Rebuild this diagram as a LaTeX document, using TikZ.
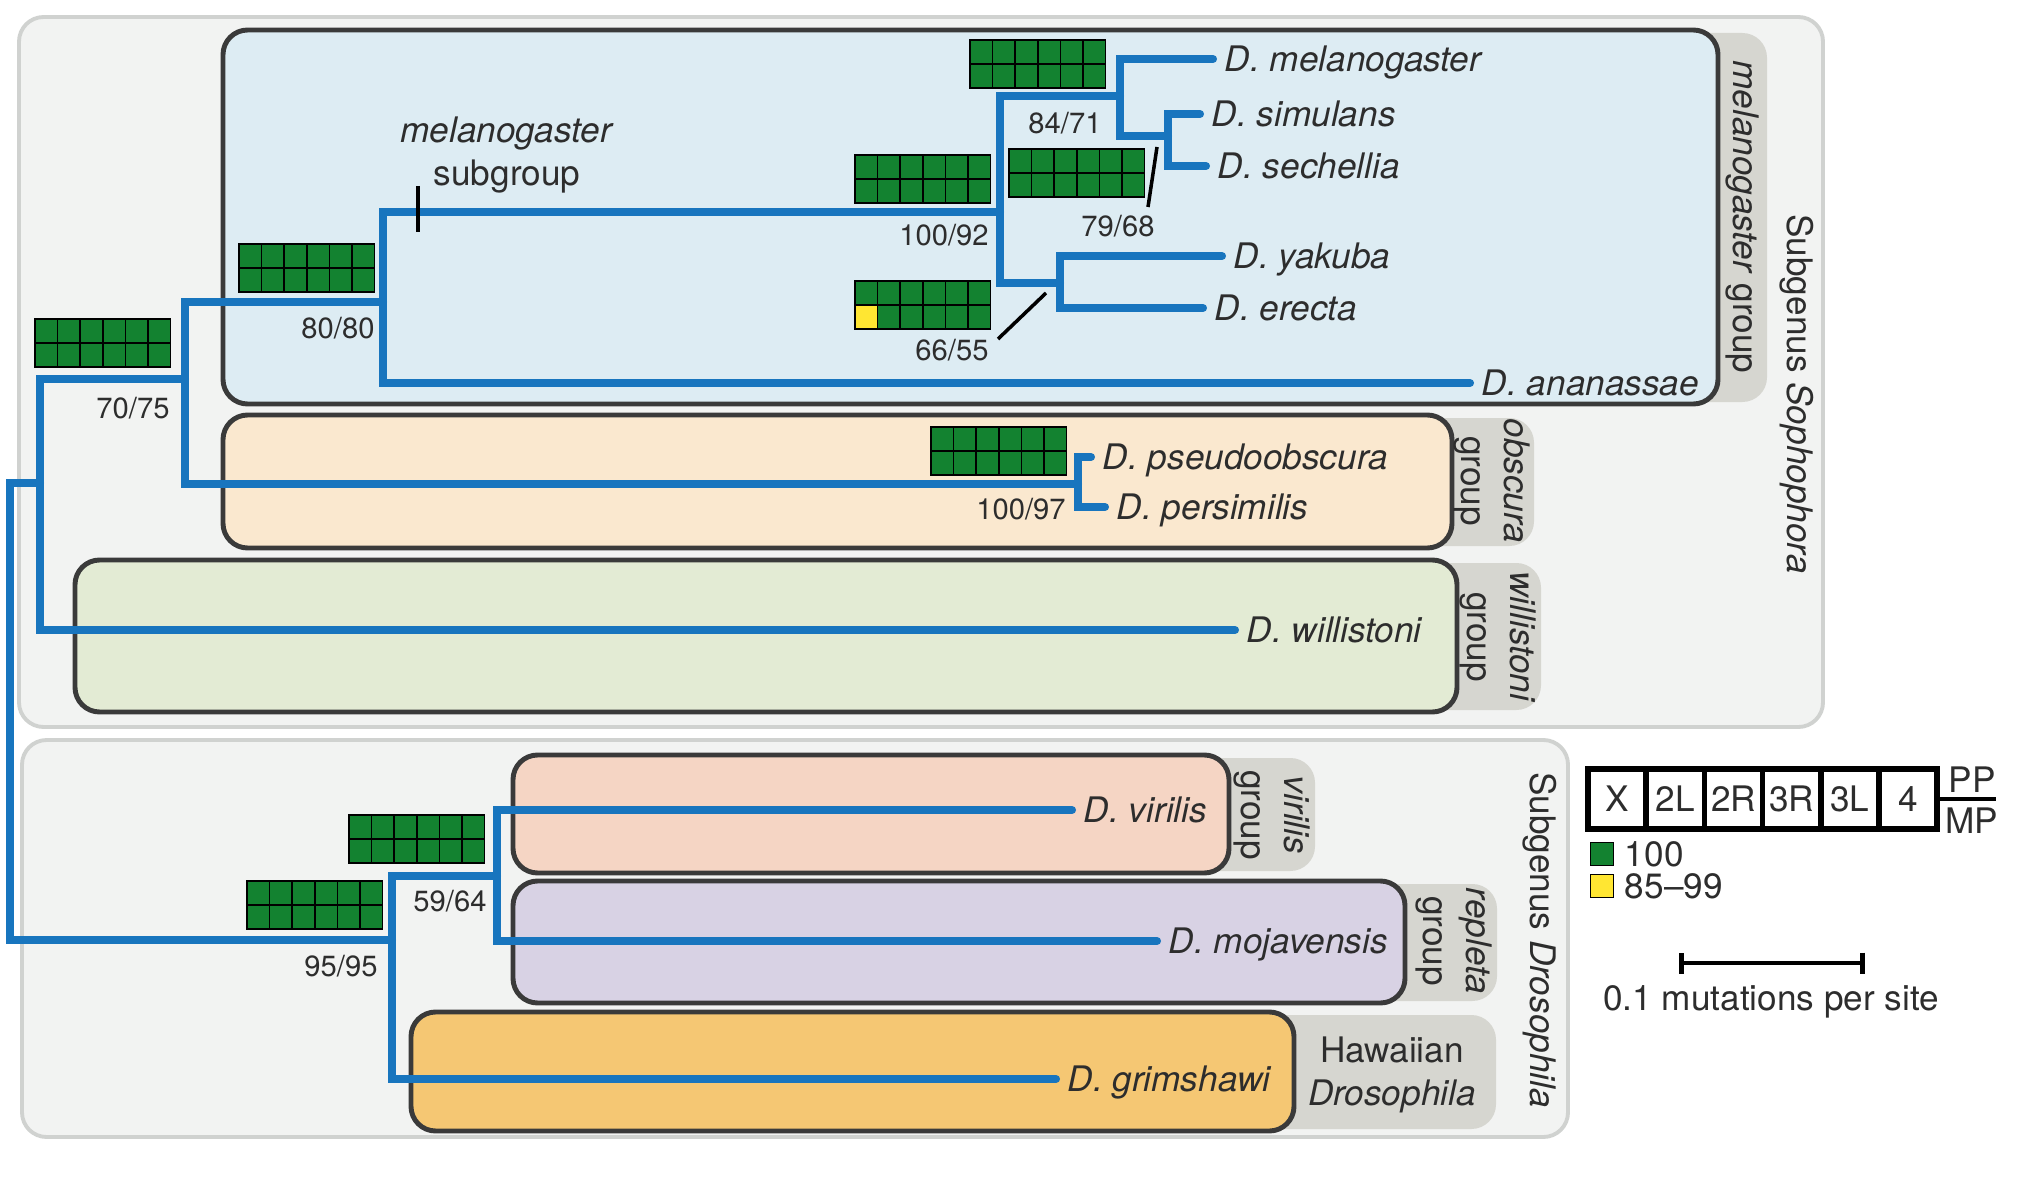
\documentclass[tikz,border=0pt]{standalone}
\usepackage{fontspec}
\setmainfont{TeX Gyre Heros}
\usetikzlibrary{positioning,arrows.meta}

\definecolor{treeblue}{RGB}{24,117,190}
\definecolor{labelgrey}{RGB}{45,45,45}
\definecolor{boxline}{RGB}{58,58,58}
\definecolor{outerfill}{RGB}{242,243,242}
\definecolor{outerline}{RGB}{208,210,208}
\definecolor{tabgrey}{RGB}{214,214,208}
\definecolor{melfill}{RGB}{221,236,243}
\definecolor{obsfill}{RGB}{250,232,207}
\definecolor{wilfill}{RGB}{227,235,212}
\definecolor{virfill}{RGB}{245,213,196}
\definecolor{repfill}{RGB}{216,210,228}
\definecolor{hawfill}{RGB}{245,199,115}
\definecolor{supportgreen}{RGB}{19,130,48}
\definecolor{weakyellow}{RGB}{255,230,50}

\tikzset{
  branch/.style={draw=treeblue, line width=2.3pt, line cap=round},
  taxon/.style={anchor=west, inner sep=3.2pt, text=labelgrey, text height=7.2pt, text depth=0pt,
    font=\fontsize{10}{12}\selectfont\itshape},
  supp/.style={inner sep=1pt, text=labelgrey, font=\fontsize{8.3}{10}\selectfont},
  grouplab/.style={align=center, inner sep=0pt, text=labelgrey, font=\fontsize{10}{12}\selectfont},
  legtext/.style={inner sep=2pt, text=labelgrey, font=\fontsize{10}{12}\selectfont},
  lead/.style={draw=black, line width=1pt},
  subgenus/.style={fill=outerfill, draw=outerline, line width=1.1pt, rounded corners=7pt},
  groupbox/.style={draw=boxline, line width=1.4pt, rounded corners=7pt},
  tab/.style={fill=tabgrey, rounded corners=7pt},
  cell/.style={draw=black, line width=0.5pt, fill=supportgreen},
  chrom/.style={draw=black, line width=1.6pt, inner sep=0pt, minimum width=0.582cm,
    minimum height=0.6cm, text=labelgrey, font=\fontsize{10}{12}\selectfont},
  keybox/.style={draw=black, line width=0.4pt, minimum size=0.23cm, inner sep=0pt},
  pics/support/.style={
    code={
      \foreach \c in {0,...,5} {
        \foreach \r in {0,1} {
          \draw[cell] (\c*22.6,\r*24) rectangle ++(22.6,24);
        }
      }
      \ifnum#1>0
        \draw[cell, fill=weakyellow] (0,24) rectangle ++(22.6,24);
      \fi
    }
  },
  pics/support/.default=0
}

\begin{document}
\begin{tikzpicture}[x=0.01cm,y=-0.01cm]
  \useasboundingbox[fill=white] (0,0) rectangle (2024,1182);

  \draw[subgenus] (19,17) rectangle (1823,727);
  \draw[subgenus] (22,740) rectangle (1568,1137);

  \foreach \xa/\ya/\xb/\yb/\xt/\col in {223/30/1718/404/1767/melfill, 223/415/1452/548/1534/obsfill,
      75/560/1457/712/1541/wilfill, 513/755/1229/873/1315/virfill, 513/881/1405/1003/1497/repfill,
      411/1012/1294/1131/1496/hawfill} {
    \fill[tab] (\xb-40,\ya+3) rectangle (\xt,\yb-2);
    \draw[groupbox, fill=\col] (\xa,\ya) rectangle (\xb,\yb);
  }

  \node (gmel) [grouplab, rotate=-90] at (1742,217) {\textit{melanogaster} group};
  \node (gobs) [grouplab, rotate=-90] at (1492,481) {\textit{obscura}\\group};
  \node (gwil) [grouplab, rotate=-90] at (1498,637) {\textit{willistoni}\\group};
  \node (gvir) [grouplab, rotate=-90] at (1272,815) {\textit{virilis}\\group};
  \node (grep) [grouplab, rotate=-90] at (1454,941) {\textit{repleta}\\group};
  \node (ghaw) [grouplab] at (1392,1075) {Hawaiian\\\textit{Drosophila}};
  \node (ssoph) [grouplab, rotate=-90] at (1797,394) {Subgenus \textit{Sophophora}};
  \node (sdros) [grouplab, rotate=-90] at (1540,940) {Subgenus \textit{Drosophila}};

  \node (mel) [taxon] at (1213,59) {D. melanogaster};
  \node (sim) [taxon] at (1200,114) {D. simulans};
  \node (sec) [taxon] at (1206,166) {D. sechellia};
  \node (yak) [taxon] at (1222,256) {D. yakuba};
  \node (ere) [taxon] at (1203,308) {D. erecta};
  \node (ana) [taxon] at (1470,383) {D. ananassae};
  \node (pse) [taxon] at (1091,457) {D. pseudoobscura};
  \node (per) [taxon] at (1105,507) {D. persimilis};
  \node (wil) [taxon] at (1235,630) {D. willistoni};
  \node (vir) [taxon] at (1072,810) {D. virilis};
  \node (moj) [taxon] at (1157,941) {D. mojavensis};
  \node (gri) [taxon] at (1056,1079) {D. grimshawi};

  \coordinate (root) at (10,712);
  \coordinate (soph) at (40,483);
  \coordinate (n7075) at (185,379);
  \coordinate (n8080) at (383,302);
  \coordinate (n10092) at (1000,212);
  \coordinate (n8471) at (1120,96);
  \coordinate (n7968) at (1168,136);
  \coordinate (n6655) at (1060,283);
  \coordinate (n10097) at (1078,484);
  \coordinate (dros) at (392,940);
  \coordinate (n5964) at (497,876);

  \draw[branch] (sim.west) -| (n7968) |- (sec.west);
  \draw[branch] (mel.west) -| (n8471) |- (n7968);
  \draw[branch] (yak.west) -| (n6655) |- (ere.west);
  \draw[branch] (n8471) -| (n10092) |- (n6655);
  \draw[branch] (n10092) -| (n8080) |- (ana.west);
  \draw[branch] (pse.west) -| (n10097) |- (per.west);
  \draw[branch] (n8080) -| (n7075) |- (n10097);
  \draw[branch] (n7075) -| (soph) |- (wil.west);
  \draw[branch] (vir.west) -| (n5964) |- (moj.west);
  \draw[branch] (n5964) -| (dros) |- (gri.west);
  \draw[branch] (soph) -| (root) |- (dros);

  \foreach \px/\py in {35/319, 239/244, 855/155, 970/40, 1009/149, 931/427, 247/881, 349/815} {
    \pic at (\px,\py) {support};
  }
  \pic at (855,281) {support=1};

  \node (s7075) [supp] at (133,408) {70/75};
  \node (s8080) [supp] at (338,328) {80/80};
  \node (s10092) [supp] at (944,235) {100/92};
  \node (s8471) [supp] at (1065,123) {84/71};
  \node (s7968) [supp] at (1118,226) {79/68};
  \node (s6655) [supp] at (952,350) {66/55};
  \node (s10097) [supp] at (1021,509) {100/97};
  \node (s9595) [supp] at (341,966) {95/95};
  \node (s5964) [supp] at (450,901) {59/64};

  \coordinate (k7968a) at (1157,147);
  \coordinate (k7968b) at (1148,207);
  \draw[lead] (k7968a) -- (k7968b);
  \coordinate (k6655a) at (1046,293);
  \coordinate (k6655b) at (998,339);
  \draw[lead] (k6655a) -- (k6655b);

  \node (subg) [grouplab] at (507,155) {\textit{melanogaster}\\subgroup};
  \coordinate (tick1) at (418,186);
  \coordinate (tick2) at (418,232);
  \draw[lead, line width=1.1pt] (tick1) -- (tick2);

  \foreach \ch [count=\i, evaluate=\i as \sep using 1588+58.2*\i-29.1] in {X,2L,2R,3R,3L,4} {
    \node (chr\i) [chrom] at (\sep,799) {\ch};
  }
  \coordinate (ppmp) at (1996,799);
  \draw[draw=black, line width=1.4pt] (chr6.east) -- (ppmp);
  \node (pp) [legtext] at (1972,780) {PP};
  \node (mp) [legtext] at (1972,821) {MP};

  \node (k100) [keybox, fill=supportgreen] at (1602,854) {};
  \node (t100) [legtext, right=0.03cm of k100] {100};
  \node (k85) [keybox, fill=weakyellow] at (1602,886) {};
  \node (t85) [legtext, right=0.03cm of k85] {85--99};

  \coordinate (sb1) at (1679,963);
  \coordinate (sb2) at (1865,963);
  \draw[line width=1.4pt, {Bar[width=0.21cm]}-{Bar[width=0.21cm]}] (sb1) -- (sb2);
  \node (sbtext) [legtext] at (1771,1002) {0.1 mutations per site};
\end{tikzpicture}
\end{document}
